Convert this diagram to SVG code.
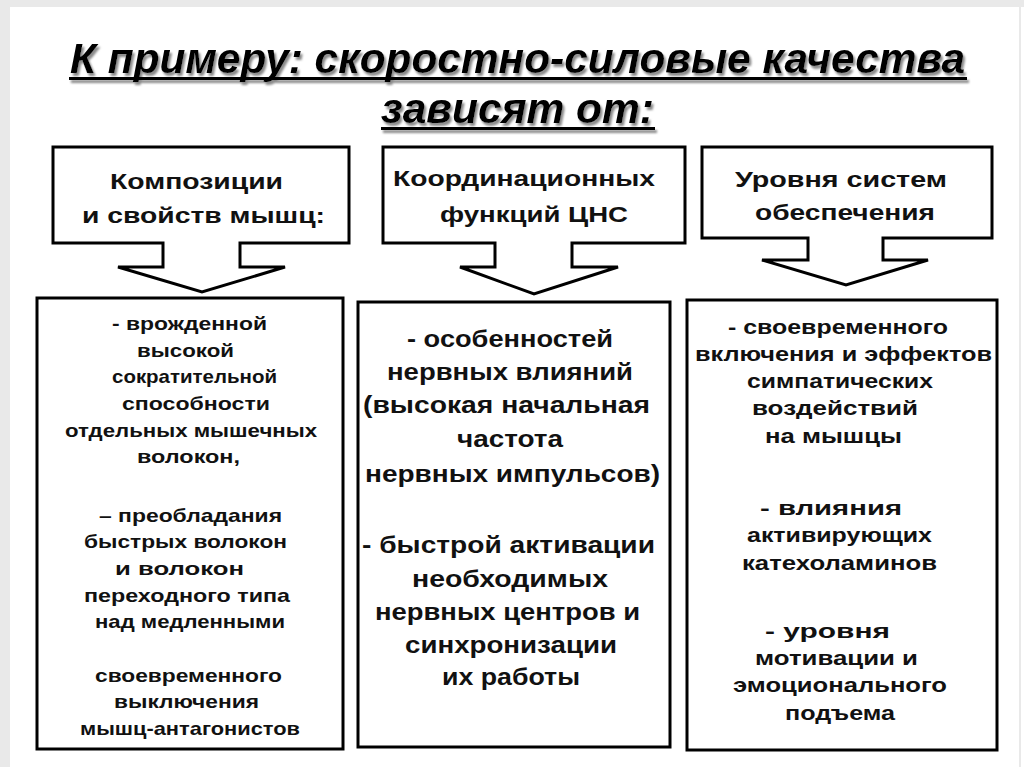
<svg xmlns="http://www.w3.org/2000/svg" width="1024" height="767" viewBox="0 0 1024 767">
<defs>
  <filter id="shadow" x="-5%" y="-20%" width="110%" height="150%">
    <feOffset in="SourceAlpha" dx="2" dy="3" result="o"/>
    <feGaussianBlur in="o" stdDeviation="1" result="b"/>
    <feFlood flood-color="#8a8a8a" result="f"/>
    <feComposite in="f" in2="b" operator="in" result="s"/>
    <feMerge><feMergeNode in="s"/><feMergeNode in="SourceGraphic"/></feMerge>
  </filter>
</defs>
<style>
.t{font-family:"Liberation Sans",Arial,sans-serif;font-weight:bold;fill:#111}
.ttl{font-family:"Liberation Sans",Arial,sans-serif;font-weight:bold;font-style:italic;font-size:43px;fill:#000}
.c{font-size:22px}
.b1{font-size:19px}
.b2{font-size:24px}
.b3{font-size:21px}
.shape{fill:#fff;stroke:#000;stroke-width:3;stroke-linejoin:miter}
</style>
<rect x="0" y="0" width="1024" height="767" fill="#e9e9e9"/>
<rect x="10" y="7" width="1009" height="760" fill="#fff"/>
<rect x="1021" y="7" width="3" height="760" fill="#fff"/>
<g id="title" filter="url(#shadow)">
  <text class="ttl" x="70" y="73" textLength="895" lengthAdjust="spacingAndGlyphs">К примеру: скоростно-силовые качества</text>
  <rect x="69" y="77" width="898" height="3"/>
  <text class="ttl" x="381" y="123" textLength="273" lengthAdjust="spacingAndGlyphs">зависят от:</text>
  <rect x="381" y="127" width="274" height="3"/>
</g>
<g id="connectors">
  <path class="shape" d="M53,147 H349 V243 H240 V267 H285 L202,292 L118,267 H163 V243 H53 Z"/>
  <path class="shape" d="M383,147 H685 V243 H572 V267 H618 L534,294 L460,267 H495 V243 H383 Z"/>
  <path class="shape" d="M702,147 H992 V238 H883 V260 H928 L846,285 L762,260 H808 V238 H702 Z"/>
</g>
<g id="head1">
  <text class="t c" x="110" y="189" textLength="173" lengthAdjust="spacingAndGlyphs">Композиции</text>
  <text class="t c" x="82" y="223" textLength="243" lengthAdjust="spacingAndGlyphs">и свойств мышц:</text>
</g>
<g id="head2">
  <text class="t c" x="393" y="186" textLength="262" lengthAdjust="spacingAndGlyphs">Координационных</text>
  <text class="t c" x="440" y="222" textLength="188" lengthAdjust="spacingAndGlyphs">функций ЦНС</text>
</g>
<g id="head3">
  <text class="t c" x="735" y="187" textLength="212" lengthAdjust="spacingAndGlyphs">Уровня систем</text>
  <text class="t c" x="755" y="220" textLength="180" lengthAdjust="spacingAndGlyphs">обеспечения</text>
</g>
<g id="box1">
  <rect class="shape" x="37" y="298" width="306" height="451"/>
  <text class="t b1" x="112" y="330" textLength="155" lengthAdjust="spacingAndGlyphs">- врожденной</text>
  <text class="t b1" x="137" y="357" textLength="97" lengthAdjust="spacingAndGlyphs">высокой</text>
  <text class="t b1" x="112" y="383" textLength="165" lengthAdjust="spacingAndGlyphs">сократительной</text>
  <text class="t b1" x="122" y="410" textLength="148" lengthAdjust="spacingAndGlyphs">способности</text>
  <text class="t b1" x="65" y="437" textLength="252" lengthAdjust="spacingAndGlyphs">отдельных мышечных</text>
  <text class="t b1" x="137" y="463" textLength="103" lengthAdjust="spacingAndGlyphs">волокон,</text>
  <text class="t b1" x="99" y="522" textLength="183" lengthAdjust="spacingAndGlyphs">– преобладания</text>
  <text class="t b1" x="84" y="548" textLength="203" lengthAdjust="spacingAndGlyphs">быстрых волокон</text>
  <text class="t b1" x="115" y="575" textLength="129" lengthAdjust="spacingAndGlyphs">и волокон</text>
  <text class="t b1" x="84" y="602" textLength="206" lengthAdjust="spacingAndGlyphs">переходного типа</text>
  <text class="t b1" x="95" y="628" textLength="190" lengthAdjust="spacingAndGlyphs">над медленными</text>
  <text class="t b1" x="95" y="682" textLength="187" lengthAdjust="spacingAndGlyphs">своевременного</text>
  <text class="t b1" x="114" y="708" textLength="145" lengthAdjust="spacingAndGlyphs">выключения</text>
  <text class="t b1" x="80" y="735" textLength="220" lengthAdjust="spacingAndGlyphs">мышц-антагонистов</text>
</g>
<g id="box2">
  <rect class="shape" x="358" y="302" width="312" height="445"/>
  <text class="t b2" x="407" y="347" textLength="206" lengthAdjust="spacingAndGlyphs">- особенностей</text>
  <text class="t b2" x="387" y="380" textLength="246" lengthAdjust="spacingAndGlyphs">нервных влияний</text>
  <text class="t b2" x="363" y="413" textLength="287" lengthAdjust="spacingAndGlyphs">(высокая начальная</text>
  <text class="t b2" x="457" y="447" textLength="106" lengthAdjust="spacingAndGlyphs">частота</text>
  <text class="t b2" x="365" y="482" textLength="295" lengthAdjust="spacingAndGlyphs">нервных импульсов)</text>
  <text class="t b2" x="362" y="553" textLength="293" lengthAdjust="spacingAndGlyphs">- быстрой активации</text>
  <text class="t b2" x="412" y="587" textLength="196" lengthAdjust="spacingAndGlyphs">необходимых</text>
  <text class="t b2" x="375" y="620" textLength="265" lengthAdjust="spacingAndGlyphs">нервных центров и</text>
  <text class="t b2" x="405" y="653" textLength="212" lengthAdjust="spacingAndGlyphs">синхронизации</text>
  <text class="t b2" x="442" y="685" textLength="138" lengthAdjust="spacingAndGlyphs">их работы</text>
</g>
<g id="box3">
  <rect class="shape" x="687" y="300" width="310" height="450"/>
  <text class="t b3" x="728" y="334" textLength="220" lengthAdjust="spacingAndGlyphs">- своевременного</text>
  <text class="t b3" x="695" y="361" textLength="297" lengthAdjust="spacingAndGlyphs">включения и эффектов</text>
  <text class="t b3" x="747" y="388" textLength="186" lengthAdjust="spacingAndGlyphs">симпатических</text>
  <text class="t b3" x="752" y="415" textLength="166" lengthAdjust="spacingAndGlyphs">воздействий</text>
  <text class="t b3" x="765" y="443" textLength="137" lengthAdjust="spacingAndGlyphs">на мышцы</text>
  <text class="t b3" x="760" y="515" textLength="142" lengthAdjust="spacingAndGlyphs">- влияния</text>
  <text class="t b3" x="747" y="542" textLength="185" lengthAdjust="spacingAndGlyphs">активирующих</text>
  <text class="t b3" x="742" y="570" textLength="195" lengthAdjust="spacingAndGlyphs">катехоламинов</text>
  <text class="t b3" x="765" y="638" textLength="125" lengthAdjust="spacingAndGlyphs">- уровня</text>
  <text class="t b3" x="755" y="665" textLength="163" lengthAdjust="spacingAndGlyphs">мотивации и</text>
  <text class="t b3" x="733" y="692" textLength="214" lengthAdjust="spacingAndGlyphs">эмоционального</text>
  <text class="t b3" x="785" y="720" textLength="110" lengthAdjust="spacingAndGlyphs">подъема</text>
</g>
</svg>
